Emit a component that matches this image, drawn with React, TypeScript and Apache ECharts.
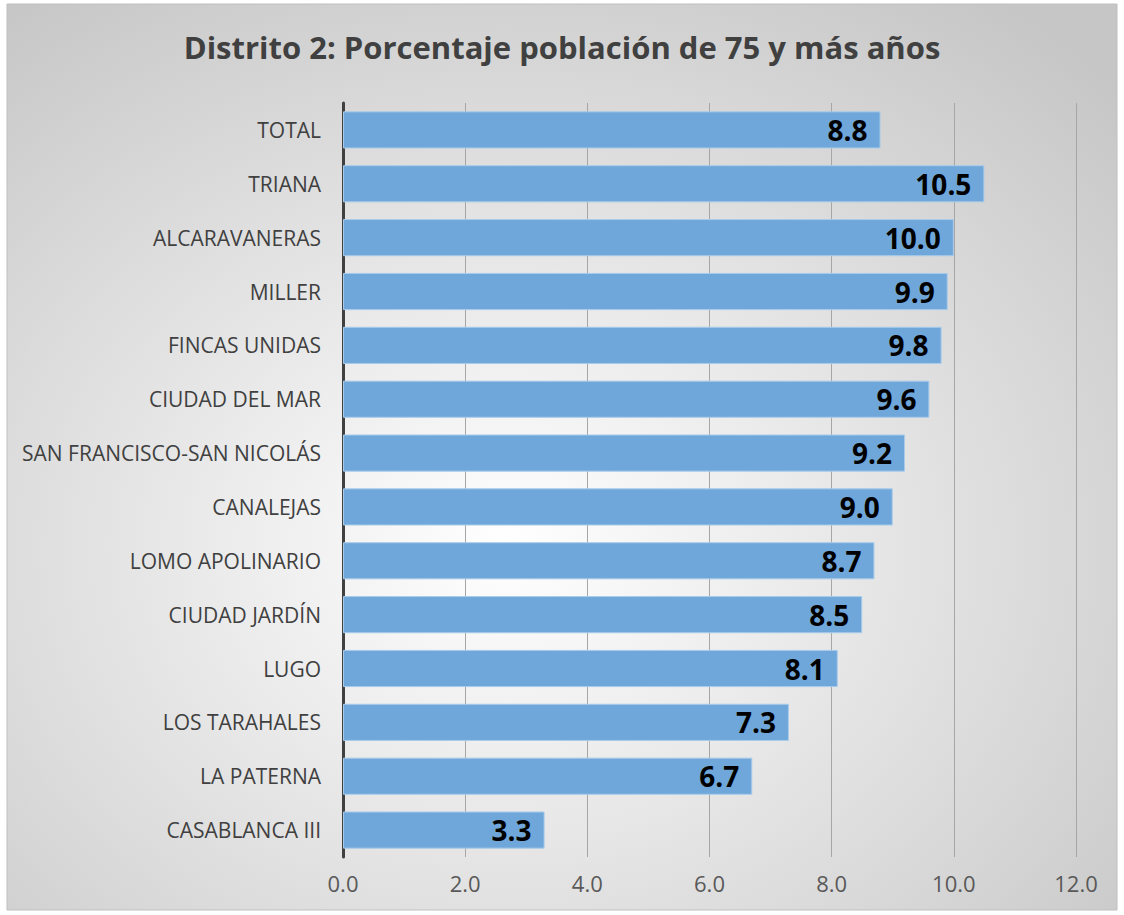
import React, { useEffect, useRef } from "react";
import * as echarts from "echarts";

const categories = [
  "TOTAL",
  "TRIANA",
  "ALCARAVANERAS",
  "MILLER",
  "FINCAS UNIDAS",
  "CIUDAD DEL MAR",
  "SAN FRANCISCO-SAN NICOLÁS",
  "CANALEJAS",
  "LOMO APOLINARIO",
  "CIUDAD JARDÍN",
  "LUGO",
  "LOS TARAHALES",
  "LA PATERNA",
  "CASABLANCA III",
];
const values = [8.8, 10.5, 10.0, 9.9, 9.8, 9.6, 9.2, 9.0, 8.7, 8.5, 8.1, 7.3, 6.7, 3.3];
const xTicks = { min: 0, max: 12, interval: 2 };
const title = "Distrito 2: Porcentaje población de 75 y más años";

const FONT = "'Open Sans', Lato, sans-serif";

export default function App() {
  const ref = useRef<HTMLDivElement>(null);
  useEffect(() => {
    if (!ref.current) return;
    const chart = echarts.init(ref.current, null, { renderer: "svg" });
    chart.setOption({
      animation: false,
      backgroundColor: "#ffffff",
      graphic: [
        {
          type: "rect",
          z: -10,
          silent: true,
          shape: { x: 7, y: 4, width: 1110, height: 906 },
          style: {
            fill: new echarts.graphic.RadialGradient(0.45, 0.6, 0.75, [
              { offset: 0, color: "#ffffff" },
              { offset: 1, color: "#c6c6c6" },
            ]),
            stroke: "#bfbfbf",
            lineWidth: 1,
          },
        },
      ],
      title: {
        text: title,
        left: "center",
        top: 26,
        textStyle: { fontFamily: FONT, fontSize: 31, fontWeight: "bold", color: "#404040" },
      },
      grid: { left: 343, right: 48, top: 103, bottom: 58, containLabel: false },
      xAxis: {
        type: "value",
        min: xTicks.min,
        max: xTicks.max,
        interval: xTicks.interval,
        axisLine: { show: false },
        axisTick: { show: false },
        splitLine: { show: true, lineStyle: { color: "#a6a6a6", width: 1 } },
        axisLabel: {
          fontFamily: FONT,
          fontSize: 22,
          color: "#595959",
          margin: 15,
          formatter: (v: number) => v.toFixed(1),
        },
      },
      yAxis: {
        type: "category",
        data: categories,
        inverse: true,
        axisLine: { show: true, lineStyle: { color: "#404040", width: 3 } },
        axisTick: { show: false },
        axisLabel: { fontFamily: FONT, fontSize: 21, color: "#404040", margin: 22 },
      },
      series: [
        {
          type: "bar",
          data: values,
          barCategoryGap: "31%",
          itemStyle: { color: "#6fa7da", borderColor: "#a9cbea", borderWidth: 1 },
          label: {
            show: true,
            position: "insideRight",
            distance: 13,
            fontFamily: FONT,
            fontSize: 28,
            fontWeight: "bold",
            color: "#000000",
            formatter: (p: any) => Number(p.value).toFixed(1),
          },
        },
      ],
    });
    return () => chart.dispose();
  }, []);
  return (
    <div
      ref={ref}
      style={{ position: "absolute", left: 0, top: 0, width: 1124, height: 915 }}
    />
  );
}
